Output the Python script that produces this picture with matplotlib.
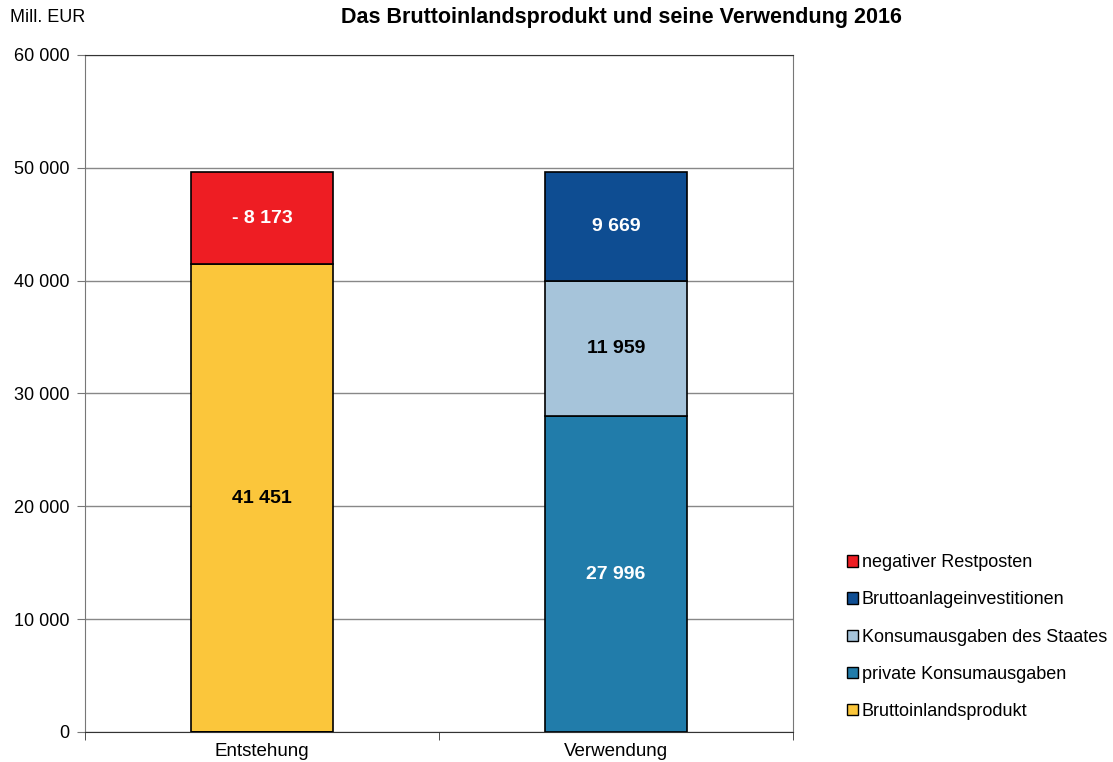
import numpy as np
import matplotlib.pyplot as plt
from matplotlib.patches import Patch

plt.rcParams['font.family'] = ['Liberation Sans', 'DejaVu Sans']

categories = ["Entstehung", "Verwendung"]

# series, bottom to top per bar
bip = [41451, 0]
restposten = [8173, 0]
privat = [0, 27996]
staat = [0, 11959]
anlage = [0, 9669]

order = ["negativer Restposten", "Bruttoanlageinvestitionen", "Konsumausgaben des Staates",
         "private Konsumausgaben", "Bruttoinlandsprodukt"]
colors = {"Bruttoinlandsprodukt": "#FBC63B",
          "private Konsumausgaben": "#217CAA",
          "Konsumausgaben des Staates": "#A6C4DA",
          "Bruttoanlageinvestitionen": "#0E4D92",
          "negativer Restposten": "#EE1D23"}


def fmt(v):
    return "{:,}".format(v).replace(",", " ")


fig = plt.figure(figsize=(11.13, 7.62), dpi=100)
ax = fig.add_axes([85 / 1113, 1 - 732 / 762, 708 / 1113, 677 / 762])

x = np.arange(len(categories))
w = 0.4

# Entstehung
ax.bar(x, bip, w, color=colors["Bruttoinlandsprodukt"], edgecolor="black", lw=1.2, zorder=3)
ax.bar(x, restposten, w, bottom=bip, color=colors["negativer Restposten"], edgecolor="black", lw=1.2, zorder=3)
# Verwendung
ax.bar(x, privat, w, color=colors["private Konsumausgaben"], edgecolor="black", lw=1.2, zorder=3)
ax.bar(x, staat, w, bottom=privat, color=colors["Konsumausgaben des Staates"], edgecolor="black", lw=1.2, zorder=3)
b2 = np.array(privat) + np.array(staat)
ax.bar(x, anlage, w, bottom=b2, color=colors["Bruttoanlageinvestitionen"], edgecolor="black", lw=1.2, zorder=3)

lab = dict(ha="center", va="center", fontsize=14, fontweight="bold", zorder=4)
ax.text(0, bip[0] / 2, fmt(bip[0]), color="black", **lab)
ax.text(0, bip[0] + restposten[0] / 2, "- " + fmt(restposten[0]), color="white", **lab)
ax.text(1, privat[1] / 2, fmt(privat[1]), color="white", **lab)
ax.text(1, privat[1] + staat[1] / 2, fmt(staat[1]), color="black", **lab)
ax.text(1, b2[1] + anlage[1] / 2, fmt(anlage[1]), color="white", **lab)

ax.set_xlim(-0.5, 1.5)
ax.set_ylim(0, 60000)
ax.set_yticks(np.arange(0, 60001, 10000))
ax.set_yticklabels([fmt(v) for v in range(0, 60001, 10000)], fontsize=13)
ax.set_xticks(x)
ax.set_xticklabels(categories, fontsize=13.5)
ax.set_xticks([-0.5, 0.5, 1.5], minor=True)
ax.tick_params(axis="x", which="major", length=0, pad=8)
ax.tick_params(axis="x", which="minor", length=6, color="#333333")
ax.tick_params(axis="y", length=6, color="#777777", pad=5)
ax.yaxis.grid(True, color="#888888", lw=1, zorder=0)
for s in ["left", "right"]:
    ax.spines[s].set_color("#777777")
ax.spines["top"].set_color("#333333")
ax.spines["bottom"].set_color("#333333")

fig.text(10 / 1113, 1 - 18 / 762, "Mill. EUR", fontsize=13, va="center", ha="left")
fig.text(621 / 1113, 1 - 18 / 762, "Das Bruttoinlandsprodukt und seine Verwendung 2016",
         fontsize=15.5, fontweight="bold", va="center", ha="center")

handles = [Patch(facecolor=colors[n], edgecolor="black", lw=1) for n in order]
fig.legend(handles, order, loc="upper left", bbox_to_anchor=(840 / 1113, 1 - 547 / 762),
           frameon=False, fontsize=13, handlelength=0.6, handleheight=0.6,
           handletextpad=0.2, labelspacing=1.12, borderaxespad=0)

fig.savefig("out.png", dpi=100)
